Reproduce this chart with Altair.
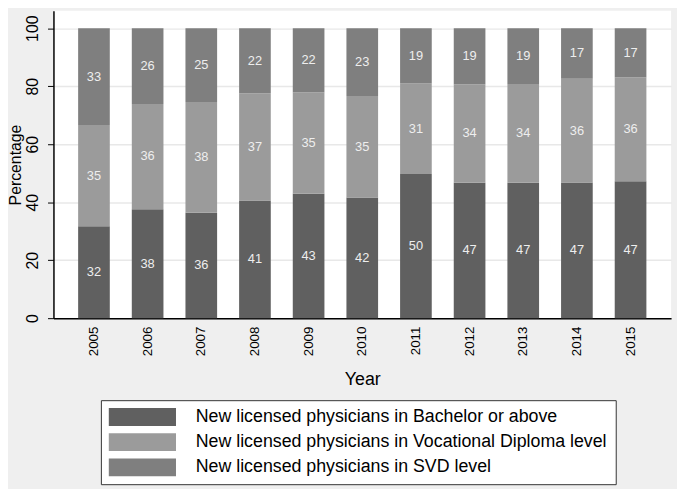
import altair as alt
import pandas as pd

years = ["2005", "2006", "2007", "2008", "2009", "2010", "2011", "2012", "2013", "2014", "2015"]
series = [
    "New licensed physicians in Bachelor or above",
    "New licensed physicians in Vocational Diploma level",
    "New licensed physicians in SVD level",
]
bachelor = [31.7, 37.6, 36.4, 40.6, 42.9, 41.6, 49.7, 46.7, 46.7, 46.8, 47.2]
vocational = [34.9, 36.3, 38.2, 37.0, 35.0, 35.0, 31.2, 34.0, 34.1, 35.8, 35.9]
svd = [33.4, 26.1, 25.4, 22.4, 22.1, 23.4, 19.1, 19.3, 19.2, 17.4, 16.9]
colors = ["#606060", "#9b9b9b", "#7f7f7f"]

rows = []
for i, y in enumerate(years):
    for k, (name, vals) in enumerate(zip(series, [bachelor, vocational, svd])):
        rows.append({"year": y, "series": name, "ord": k, "value": vals[i]})
df = pd.DataFrame(rows)

FONT = "Liberation Sans"

base = alt.Chart(df).transform_stack(
    stack="value", as_=["y0", "y1"], groupby=["year"], sort=[alt.SortField("ord")]
).transform_calculate(mid="(datum.y0 + datum.y1) / 2")

xenc = alt.X(
    "year:N",
    title="Year",
    scale=alt.Scale(paddingInner=0.41, paddingOuter=0.46),
    axis=alt.Axis(
        labelAngle=270, labelFontSize=13.5, labelAlign="right", labelBaseline="middle",
        labelPadding=8, ticks=False, domainColor="#000000", domainWidth=1.5,
        titleFontSize=18, titleFontWeight="normal", titlePadding=15, grid=False,
        labelColor="#000000", titleColor="#000000",
    ),
)
yscale = alt.Scale(domain=[0, 106], nice=False, zero=True)
yaxis = alt.Axis(
    values=[0, 20, 40, 60, 80, 100], labelAngle=270, labelFontSize=16,
    labelAlign="center", labelBaseline="bottom", labelPadding=7,
    tickSize=6, tickColor="#000000", domainColor="#000000", domainWidth=1.5,
    gridColor="#e8e8e8", gridWidth=1.5, title="Percentage", titleFontSize=16,
    titleFontWeight="normal", titleX=-30, titleBaseline="bottom",
    labelColor="#000000", titleColor="#000000",
)

bars = base.mark_bar().encode(
    x=xenc,
    y=alt.Y("y0:Q", scale=yscale, axis=yaxis),
    y2="y1:Q",
    color=alt.Color(
        "series:N",
        scale=alt.Scale(domain=series, range=colors),
        legend=alt.Legend(
            title=None, orient="none", legendX=48, legendY=394, direction="vertical",
            symbolType="M-1,-1H6.556V1H-1Z", symbolSize=324, symbolStrokeWidth=0,
            symbolOpacity=1, labelFontSize=18, labelColor="#000000", labelLimit=600,
            strokeColor="#333333", fillColor="#ffffff", padding=8, rowPadding=7.5,
            labelOffset=70, offset=0,
        ),
    ),
    order=alt.Order("ord:Q"),
)

labels = base.mark_text(fontSize=13, color="#eeeeee", font=FONT).encode(
    x=alt.X("year:N"),
    y=alt.Y("mid:Q"),
    text=alt.Text("value:Q", format=".0f"),
)

chart = alt.layer(bars, labels).properties(
    width=625, height=311,
    autosize=alt.AutoSizeParams(type="none"),
    padding={"left": 46, "top": 0, "right": 6, "bottom": 170},
    background="#efefef",
).configure(font=FONT).configure_view(fill="#ffffff", stroke=None)

chart.save("out.html", embed_options={"renderer": "svg", "actions": False})
